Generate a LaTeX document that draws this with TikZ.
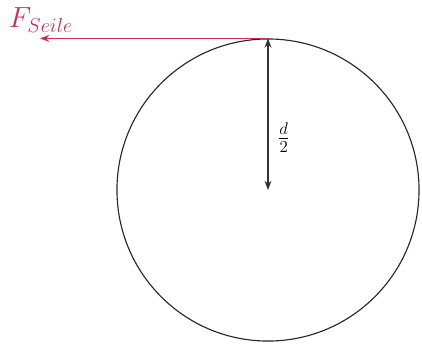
\documentclass[tikz,border=0pt]{standalone}
\usepackage{amsmath}
\usepackage{tikz}
\usetikzlibrary{arrows.meta, positioning}
\usepackage{xcolor}
\definecolor{seilred}{RGB}{205,45,85}
\tikzset{
  rollenkreis/.style={circle, draw=black!85, line width=0.8pt, inner sep=0pt, minimum size=7.55cm},
  seilarrow/.style={->, >=Stealth, line width=0.8pt, color=seilred},
  massarrow/.style={<->, >=Stealth, line width=0.8pt, color=black!80},
  beschriftung/.style={inner sep=1pt, font=\LARGE}
}
\begin{document}
\begin{tikzpicture}[x=0.025cm, y=-0.025cm]
  \useasboundingbox (0,0) rectangle (422,345);
  \node[rollenkreis] (rolle) at (268,190) {};
  \coordinate (mitte) at (rolle.center);
  \coordinate (seilende) at (40,0 |- rolle.north);

  % labels
  \node[beschriftung, font=\huge, text=seilred] (fseil) at (41,20) {$F_{Seile}$};
  \node[beschriftung, right=0.2cm of mitte, yshift=1.3cm] (halbd) {$\frac{d}{2}$};

  \draw[seilarrow] (rolle.north) -- (seilende);
  \draw[massarrow] (rolle.north) -- (mitte);
\end{tikzpicture}
\end{document}
